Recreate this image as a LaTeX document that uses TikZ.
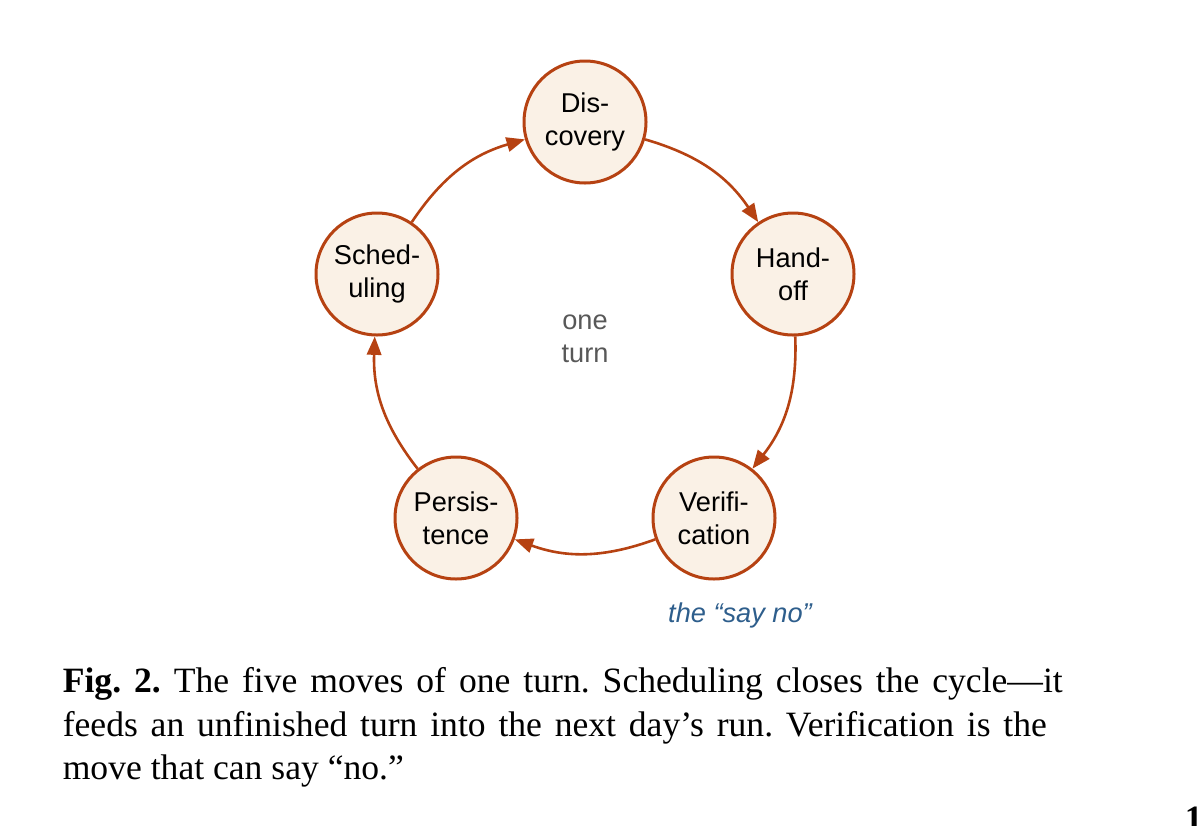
\documentclass[tikz,border=0pt]{standalone}
\usepackage{fontspec}
\setmainfont{Liberation Serif}
\setsansfont{Liberation Sans}
\usetikzlibrary{arrows.meta}
\definecolor{accent}{RGB}{182,66,18}
\definecolor{cream}{RGB}{250,241,230}
\definecolor{mutedgray}{RGB}{88,88,88}
\definecolor{noteblue}{RGB}{46,94,140}
\newcommand{\labelfont}{\sffamily\fontsize{6.8pt}{8.3pt}\selectfont}
\tikzset{
  move/.style={circle, draw=accent, fill=cream, line width=0.75pt,
    minimum size=30.5pt, inner sep=0pt, align=center, font=\labelfont},
  flow/.style={draw=accent, line width=0.65pt, bend left=20,
    -{Triangle[length=4.6pt,width=3.6pt]}},
  captext/.style={anchor=base west, inner sep=0pt,
    font=\frenchspacing\fontsize{8.9pt}{11pt}\selectfont},
}
\begin{document}
\begin{tikzpicture}[x=0.25pt,y=-0.25pt]
\useasboundingbox (0,0) rectangle (1199,825);
\node[move] (disc) at (585,122) {Dis-\\covery};
\node[move] (hand) at (793,274) {Hand-\\off};
\node[move] (veri) at (714,518) {Verifi-\\cation};
\node[move] (pers) at (456,518) {Persis-\\tence};
\node[move] (sched) at (377,274) {Sched-\\uling};
\node[align=center, text=mutedgray, font=\labelfont] (center) at (585,339) {one\\turn};
\node[text=noteblue, font=\labelfont\itshape] (note) at (740,615) {the “say no”};
\draw[flow] (disc) to (hand);
\draw[flow] (hand) to (veri);
\draw[flow] (veri) to (pers);
\draw[flow] (pers) to (sched);
\draw[flow] (sched) to (disc);
\node[captext] (cap1) at (62,692) {\makebox[250pt][s]{\textbf{Fig. 2.} The five moves of one turn. Scheduling closes the cycle—it}};
\node[captext] (cap2) at (62,736) {\makebox[246pt][s]{feeds an unfinished turn into the next day’s run. Verification is the}};
\node[captext] (cap3) at (62,779) {move that can say “no.”};
\node[captext, font=\bfseries\fontsize{8.9pt}{11pt}\selectfont] (page) at (1184,830) {1};
\end{tikzpicture}
\end{document}
